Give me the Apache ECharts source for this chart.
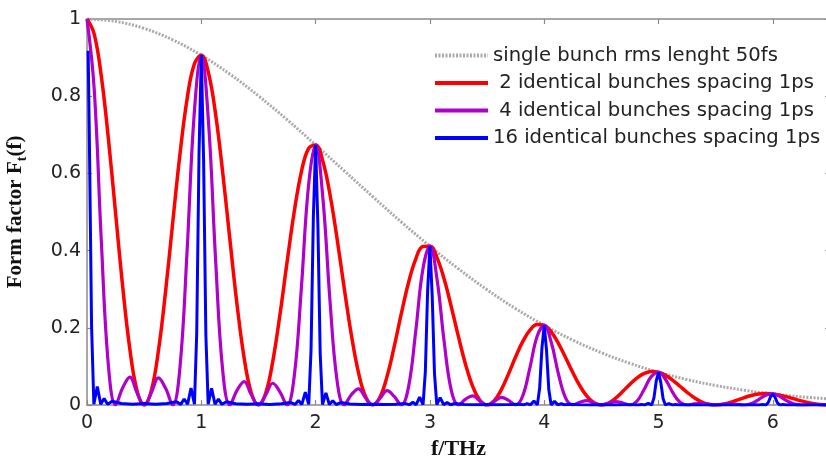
<!DOCTYPE html>
<html>
<head>
<meta charset="utf-8">
<script src="https://cdn.jsdelivr.net/npm/echarts@6/dist/echarts.min.js"></script>
<style>
  html, body { margin: 0; padding: 0; background: #fff; }
  #chart { width: 826px; height: 461px; }
</style>
</head>
<body>
<div id="chart"></div>
<script>
// frequency grid (THz) for the 2- and 4-bunch curves
const freq = [
  0, 0.0625, 0.125, 0.1875, 0.25, 0.3125, 0.375, 0.4375, 0.5, 0.5625, 0.625, 0.6875, 0.75, 0.8125, 0.875, 0.9375,
  1, 1.0625, 1.125, 1.1875, 1.25, 1.3125, 1.375, 1.4375, 1.5, 1.5625, 1.625, 1.6875, 1.75, 1.8125, 1.875, 1.9375,
  2, 2.0625, 2.125, 2.1875, 2.25, 2.3125, 2.375, 2.4375, 2.5, 2.5625, 2.625, 2.6875, 2.75, 2.8125, 2.875, 2.9375,
  3, 3.0625, 3.125, 3.1875, 3.25, 3.3125, 3.375, 3.4375, 3.5, 3.5625, 3.625, 3.6875, 3.75, 3.8125, 3.875, 3.9375,
  4, 4.0625, 4.125, 4.1875, 4.25, 4.3125, 4.375, 4.4375, 4.5, 4.5625, 4.625, 4.6875, 4.75, 4.8125, 4.875, 4.9375,
  5, 5.0625, 5.125, 5.1875, 5.25, 5.3125, 5.375, 5.4375, 5.5, 5.5625, 5.625, 5.6875, 5.75, 5.8125, 5.875, 5.9375,
  6, 6.0625, 6.125, 6.1875, 6.25, 6.3125, 6.375, 6.4375, 6.5
];
const twoBunch = [
  1, 0.9615, 0.8523, 0.6889, 0.497, 0.3057, 0.1444, 0.0374, 0, 0.0369, 0.1409, 0.2946, 0.473, 0.6477, 0.7915, 0.882,
  0.906, 0.8605, 0.7534, 0.6015, 0.4286, 0.2604, 0.1215, 0.0311, 0, 0.0299, 0.1128, 0.2331, 0.3696, 0.4999, 0.6034, 0.6641,
  0.6738, 0.6321, 0.5466, 0.4311, 0.3034, 0.1821, 0.0839, 0.0212, 0, 0.0199, 0.0742, 0.1513, 0.2371, 0.3167, 0.3775, 0.4104,
  0.4114, 0.3812, 0.3256, 0.2536, 0.1763, 0.1045, 0.0476, 0.0119, 0, 0.0109, 0.04, 0.0807, 0.1248, 0.1647, 0.1939, 0.2083,
  0.2062, 0.1887, 0.1592, 0.1225, 0.0841, 0.0492, 0.0221, 0.0055, 0, 0.0049, 0.0177, 0.0353, 0.054, 0.0703, 0.0818, 0.0868,
  0.0848, 0.0767, 0.0639, 0.0485, 0.0329, 0.019, 0.0085, 0.0021, 0, 0.0018, 0.0064, 0.0127, 0.0192, 0.0246, 0.0283, 0.0296,
  0.0286, 0.0256, 0.0211, 0.0158, 0.0106, 0.0061, 0.0026, 0.0006, 0
];
const fourBunch = [
  1, 0.8207, 0.4262, 0.1008, 0, 0.0448, 0.0722, 0.0319, 0, 0.0315, 0.0704, 0.0431, 0, 0.0948, 0.3957, 0.7528,
  0.906, 0.7345, 0.3767, 0.0881, 0, 0.0381, 0.0607, 0.0265, 0, 0.0255, 0.0564, 0.0341, 0, 0.0732, 0.3017, 0.5668,
  0.6738, 0.5395, 0.2733, 0.0631, 0, 0.0267, 0.042, 0.0181, 0, 0.017, 0.0371, 0.0222, 0, 0.0464, 0.1888, 0.3503,
  0.4114, 0.3254, 0.1628, 0.0371, 0, 0.0153, 0.0238, 0.0101, 0, 0.0093, 0.02, 0.0118, 0, 0.0241, 0.097, 0.1777,
  0.2062, 0.1611, 0.0796, 0.0179, 0, 0.0072, 0.0111, 0.0047, 0, 0.0042, 0.0089, 0.0052, 0, 0.0103, 0.0409, 0.0741,
  0.0848, 0.0654, 0.032, 0.0071, 0, 0.0028, 0.0042, 0.0018, 0, 0.0015, 0.0032, 0.0019, 0, 0.0036, 0.0142, 0.0253,
  0.0286, 0.0218, 0.0105, 0.0023, 0, 0.0009, 0.0013, 0.0005, 0
];

// single bunch envelope
const envFreq = [0, 0.25, 0.5, 0.75, 1, 1.25, 1.5, 1.75, 2, 2.25, 2.5, 2.75, 3, 3.25, 3.5, 3.75, 4, 4.25, 4.5, 4.75, 5, 5.25, 5.5, 5.75, 6, 6.25, 6.5];
const singleBunch = [1, 0.9938, 0.9756, 0.946, 0.906, 0.8571, 0.8009, 0.7392, 0.6738, 0.6068, 0.5396, 0.4741, 0.4114, 0.3526, 0.2985, 0.2496, 0.2062, 0.1682, 0.1355, 0.1079, 0.0848, 0.0658, 0.0505, 0.0383, 0.0286, 0.0212, 0.0155];

// 16 bunches (sharp peaks)
const blueFreq = [
  0.01, 0.02, 0.04, 0.06, 0.09, 0.12, 0.15, 0.18, 0.22, 0.3, 0.4, 0.5, 0.6, 0.7,
  0.78, 0.82, 0.85, 0.88, 0.91, 0.94, 0.96, 0.98, 1,
  1.02, 1.04, 1.06, 1.09, 1.12, 1.15, 1.18, 1.22, 1.3, 1.4, 1.5, 1.6, 1.7,
  1.78, 1.82, 1.85, 1.88, 1.91, 1.94, 1.96, 1.98, 2,
  2.02, 2.04, 2.06, 2.09, 2.12, 2.15, 2.18, 2.22, 2.3, 2.4, 2.5, 2.6, 2.7,
  2.78, 2.82, 2.85, 2.88, 2.91, 2.94, 2.96, 2.98, 3,
  3.02, 3.04, 3.06, 3.09, 3.12, 3.15, 3.18, 3.22, 3.3, 3.4, 3.5, 3.6, 3.7,
  3.78, 3.82, 3.85, 3.88, 3.91, 3.94, 3.96, 3.98, 4,
  4.02, 4.04, 4.06, 4.09, 4.12, 4.15, 4.18, 4.22, 4.3, 4.4, 4.5, 4.6, 4.7,
  4.78, 4.82, 4.85, 4.88, 4.91, 4.94, 4.96, 4.98, 5,
  5.02, 5.04, 5.06, 5.09, 5.12, 5.15, 5.18, 5.22, 5.3, 5.4, 5.5, 5.6, 5.7,
  5.78, 5.82, 5.85, 5.88, 5.91, 5.94, 5.96, 5.98, 6,
  6.02, 6.04, 6.06, 6.09, 6.12, 6.15, 6.18, 6.22, 6.3, 6.4, 6.5
];
const sixteenBunch = [
  0.918, 0.706, 0.204, 0.002, 0.048, 0.002, 0.017, 0.002, 0.0096, 0.004, 0.002, 0.004, 0.002, 0.004,
  0.0088, 0.0016, 0.0156, 0.0018, 0.044, 0.0018, 0.188, 0.65, 0.906,
  0.635, 0.18, 0.002, 0.043, 0.002, 0.015, 0.0018, 0.0085, 0.0034, 0.0017, 0.0032, 0.0016, 0.003,
  0.0067, 0.0014, 0.0118, 0.0014, 0.0335, 0.0014, 0.142, 0.484, 0.674,
  0.465, 0.134, 0.0013, 0.0315, 0.0013, 0.011, 0.0013, 0.0063, 0.0025, 0.0012, 0.0022, 0.0011, 0.002,
  0.0041, 0.0009, 0.0072, 0.0009, 0.0204, 0.0009, 0.0867, 0.297, 0.411,
  0.283, 0.081, 0.0008, 0.019, 0.0008, 0.0067, 0.0008, 0.0038, 0.0014, 0.0006, 0.0012, 0.0006, 0.001,
  0.0021, 0.0004, 0.0037, 0.0004, 0.0104, 0.0004, 0.044, 0.148, 0.206,
  0.142, 0.04, 0.0004, 0.0095, 0.0004, 0.0033, 0.0004, 0.0019, 0.0007, 0.0003, 0.0005, 0.0003, 0.0004,
  0.0009, 0.0002, 0.0015, 0.0002, 0.0043, 0.0002, 0.0184, 0.0625, 0.0848,
  0.058, 0.0163, 0.0002, 0.0038, 0.0002, 0.0014, 0.0002, 0.0008, 0.0003, 0.0001, 0.0002, 0.0001, 0.0002,
  0.0003, 0.0001, 0.0005, 0.0001, 0.0015, 0.0001, 0.0063, 0.0214, 0.0286,
  0.0195, 0.0055, 0.0001, 0.0013, 0.0001, 0.0005, 0.0001, 0.0003, 0.0001, 0.0001, 0.0001
];

const names = [
  'single bunch rms lenght 50fs',
  ' 2 identical bunches spacing 1ps',
  ' 4 identical bunches spacing 1ps',
  '16 identical bunches spacing 1ps'
];

const zip = (xs, ys) => xs.map((x, i) => [x, ys[i]]);

const axisGray = '#8a8a8a';
const labelFont = 'DejaVu Sans';

const chart = echarts.init(document.getElementById('chart'), null, { renderer: 'canvas' });

const frameX = (pos, showLabel) => ({
  type: 'value',
  position: pos,
  min: 0,
  max: 6.5,
  interval: 1,
  axisLine: { show: true, onZero: false, lineStyle: { color: axisGray, width: 1.5 } },
  axisTick: { show: true, inside: true, length: 5, lineStyle: { color: axisGray, width: 1.2 } },
  axisLabel: {
    show: showLabel,
    color: '#222',
    fontFamily: labelFont,
    fontSize: 19,
    margin: 9,
    formatter: (v) => (Number.isInteger(v) ? String(v) : '')
  },
  splitLine: { show: false }
});

const frameY = (pos, showLabel) => ({
  type: 'value',
  position: pos,
  min: 0,
  max: 1,
  interval: 0.2,
  axisLine: { show: true, onZero: false, lineStyle: { color: axisGray, width: 1.5 } },
  axisTick: { show: true, inside: true, length: 5, lineStyle: { color: axisGray, width: 1.2 } },
  axisLabel: { show: showLabel, color: '#222', fontFamily: labelFont, fontSize: 19, margin: 6 },
  splitLine: { show: false }
});

const xBottom = Object.assign(frameX('bottom', true), {
  name: 'f/THz',
  nameLocation: 'middle',
  nameGap: 31,
  nameTextStyle: { fontFamily: 'Liberation Serif', fontWeight: 'bold', fontSize: 22, color: '#111' }
});
const yLeft = Object.assign(frameY('left', true), {
  name: 'Form factor F{s|t}(f)',
  nameLocation: 'middle',
  nameGap: 58,
  nameTextStyle: {
    fontFamily: 'Liberation Serif',
    fontWeight: 'bold',
    fontSize: 21,
    color: '#111',
    lineHeight: 26,
    rich: {
      s: { fontFamily: 'Liberation Serif', fontWeight: 'bold', fontSize: 14, color: '#111', lineHeight: 14, verticalAlign: 'bottom' }
    }
  }
});

const option = {
  animation: false,
  backgroundColor: '#fff',
  grid: { left: 87, top: 19, width: 743, height: 386, containLabel: false, outerBoundsMode: 'none' },
  legend: {
    orient: 'vertical',
    left: 428,
    top: 40,
    itemWidth: 53,
    itemHeight: 14,
    itemGap: 6.5,
    data: names,
    itemStyle: { opacity: 0 },
    lineStyle: { width: 4 },
    textStyle: { fontFamily: labelFont, fontSize: 19.6, color: '#222', lineHeight: 21 }
  },
  xAxis: [xBottom, frameX('top', false)],
  yAxis: [yLeft, frameY('right', false)],
  series: [
    {
      type: 'line', name: names[0], data: zip(envFreq, singleBunch),
      symbol: 'none', smooth: 0.4, color: '#a9a9a9',
      lineStyle: { color: '#a9a9a9', width: 3, type: [2, 1.5] }
    },
    {
      type: 'line', name: names[1], data: zip(freq, twoBunch),
      symbol: 'none', smooth: 0.4, color: '#ff0000',
      lineStyle: { color: '#ff0000', width: 3.5 }
    },
    {
      type: 'line', name: names[2], data: zip(freq, fourBunch),
      symbol: 'none', smooth: 0.4, color: '#b000cc',
      lineStyle: { color: '#b000cc', width: 3.2 }
    },
    {
      type: 'line', name: names[3], data: zip(blueFreq, sixteenBunch),
      symbol: 'none', smooth: false, color: '#0000ff',
      lineStyle: { color: '#0000ff', width: 3 }
    }
  ]
};

chart.setOption(option);
</script>
</body>
</html>
